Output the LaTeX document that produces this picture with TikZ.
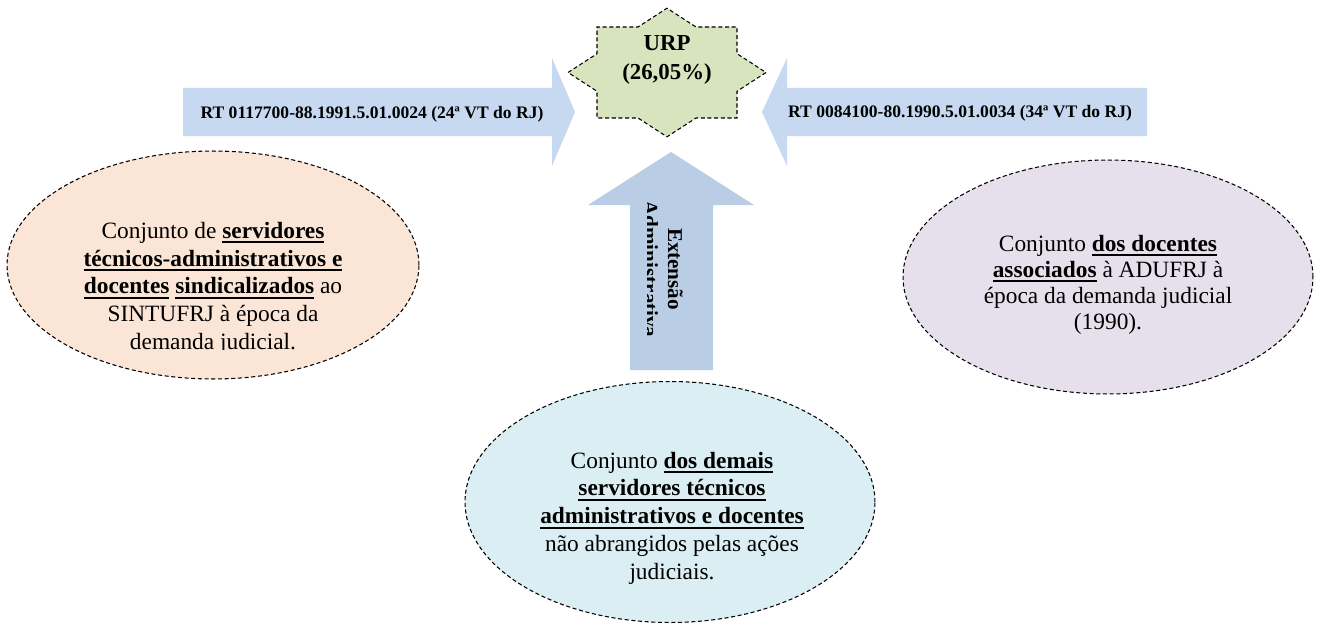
\documentclass[tikz,border=0pt]{standalone}
\usepackage{fontspec}
\setmainfont{Liberation Serif}
\usetikzlibrary{shapes.geometric}

\definecolor{acaoblue}{HTML}{C6D9F1}
\definecolor{extblue}{HTML}{B9CDE5}
\definecolor{urpgreen}{HTML}{D7E4BD}
\definecolor{sintpeach}{HTML}{FBE5D6}
\definecolor{adulilac}{HTML}{E6E0EC}
\definecolor{demaiscyan}{HTML}{DAEEF3}

% bold text with a thick underline
\newsavebox{\destaquebox}
\newcommand{\destaque}[1]{\sbox{\destaquebox}{\bfseries #1}\rlap{\rule[-3pt]{\wd\destaquebox}{1.1pt}}\usebox{\destaquebox}}

\begin{document}
\begin{tikzpicture}[x=0.02cm, y=-0.02cm,
  contorno/.style={draw=black, line width=0.6pt, dash pattern=on 2.3pt off 1.5pt},
  conjunto/.style={ellipse, contorno, inner sep=0pt},
  texto/.style={anchor=north, inner sep=0pt, align=center, font=\fontsize{13.3}{15.9}\selectfont},
  rotulo/.style={inner sep=0pt, font=\fontsize{10}{12}\selectfont\bfseries}]

\useasboundingbox (0,0) rectangle (1321,625);

% Block arrows
\fill[acaoblue] (183,88) -- (552,88) -- (552,58) -- (575,112) -- (552,166) -- (552,136) -- (183,136) -- cycle;
\fill[acaoblue] (1147,88) -- (787,88) -- (787,58) -- (762,112) -- (787,166) -- (787,136) -- (1147,136) -- cycle;
\fill[extblue] (630,370) -- (630,205) -- (588,205) -- (671,152) -- (754,205) -- (713,205) -- (713,370) -- cycle;

\node[rotulo] (rtesq) at (372,114) {RT 0117700-88.1991.5.01.0024 (24ª VT do RJ)};
\node[rotulo] (rtdir) at (960,113) {RT 0084100-80.1990.5.01.0034 (34ª VT do RJ)};

% Extension label (clipped as printed)
\begin{scope}
  \clip (647,150) rectangle (713,370);
  \node[inner sep=0pt, align=center, rotate=-90, font=\fontsize{12}{14}\selectfont\bfseries] (ext) at (663,269) {Extensão\\Administrativa};
\end{scope}

% URP star
\draw[contorno, fill=urpgreen, shift={(667,72.5)}]
  (99,0) -- (70,18.8) -- (70,45.5) -- (29,45.5) -- (0,64.3) -- (-29,45.5) -- (-70,45.5) -- (-70,18.8)
  -- (-99,0) -- (-70,-18.8) -- (-70,-45.5) -- (-29,-45.5) -- (0,-64.3) -- (29,-45.5) -- (70,-45.5) -- (70,-18.8) -- cycle;
\node[inner sep=0pt, align=center, font=\fontsize{13}{16}\selectfont\bfseries] (urp) at (667,60) {URP\\(26,05\%)};

% Sets
\node[conjunto, fill=sintpeach, minimum width=8.24cm, minimum height=4.56cm] (sint) at (213,265) {};
\node[conjunto, fill=adulilac, minimum width=8.2cm, minimum height=4.68cm] (adu) at (1108,277) {};
\node[conjunto, fill=demaiscyan, minimum width=8.2cm, minimum height=4.82cm] (demais) at (670,502) {};

\begin{scope}
  \clip (0,0) rectangle (430,349.5);
  \node[texto] (sinttxt) at (213,221.5) {Conjunto de \destaque{servidores}\\
    \destaque{técnicos-administrativos e}\\
    \destaque{docentes} \destaque{sindicalizados} ao\\
    SINTUFRJ à época da\\
    demanda judicial.};
\end{scope}

\node[texto, font=\fontsize{13.3}{14.8}\selectfont] (adutxt) at (1108,234.5) {Conjunto \destaque{dos docentes}\\
  \destaque{associados} à ADUFRJ à\\
  época da demanda judicial\\
  (1990).};

\node[texto, font=\fontsize{13.3}{15.8}\selectfont] (demaistxt) at (672,451.5) {Conjunto \destaque{dos demais}\\
  \destaque{servidores técnicos}\\
  \destaque{administrativos e docentes}\\
  não abrangidos pelas ações\\
  judiciais.};

\end{tikzpicture}
\end{document}
